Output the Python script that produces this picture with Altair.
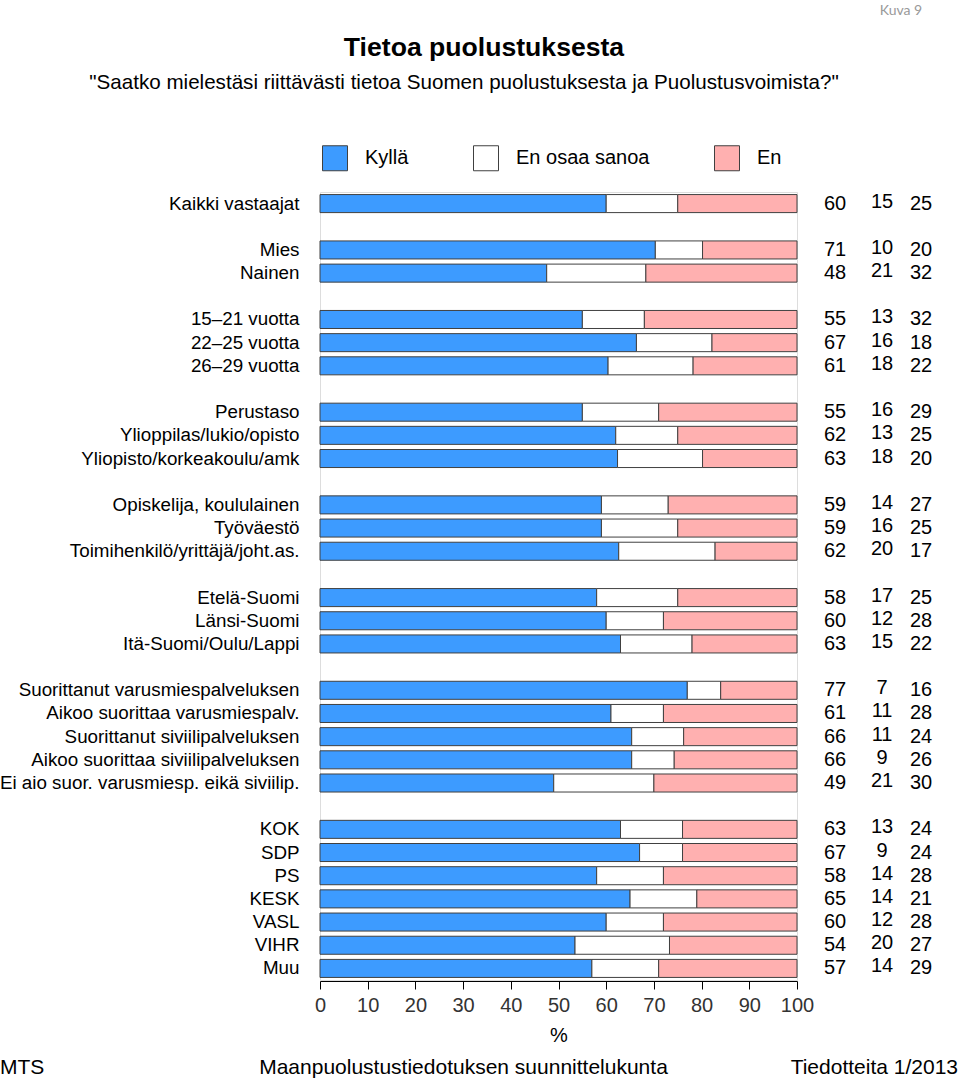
import altair as alt
import pandas as pd

labels = [
    "Kaikki vastaajat",
    "Mies", "Nainen",
    "15–21 vuotta", "22–25 vuotta", "26–29 vuotta",
    "Perustaso", "Ylioppilas/lukio/opisto", "Yliopisto/korkeakoulu/amk",
    "Opiskelija, koululainen", "Työväestö", "Toimihenkilö/yrittäjä/joht.as.",
    "Etelä-Suomi", "Länsi-Suomi", "Itä-Suomi/Oulu/Lappi",
    "Suorittanut varusmiespalveluksen", "Aikoo suorittaa varusmiespalv.",
    "Suorittanut siviilipalveluksen", "Aikoo suorittaa siviilipalveluksen",
    "Ei aio suor. varusmiesp. eikä siviilip.",
    "KOK", "SDP", "PS", "KESK", "VASL", "VIHR", "Muu",
]
group_sizes = [1, 2, 3, 3, 3, 3, 5, 7]

kylla = [60, 71, 48, 55, 67, 61, 55, 62, 63, 59, 59, 62, 58, 60, 63,
         77, 61, 66, 66, 49, 63, 67, 58, 65, 60, 54, 57]
eos = [15, 10, 21, 13, 16, 18, 16, 13, 18, 14, 16, 20, 17, 12, 15,
       7, 11, 11, 9, 21, 13, 9, 14, 14, 12, 20, 14]
en = [25, 20, 32, 32, 18, 22, 29, 25, 20, 27, 25, 17, 25, 28, 22,
      16, 28, 24, 26, 30, 24, 24, 28, 21, 28, 27, 29]

categories = ["Kyllä", "En osaa sanoa", "En"]
colors = ["#3d9bff", "#ffffff", "#ffb0b0"]
tick_values = [0, 10, 20, 30, 40, 50, 60, 70, 80, 90, 100]

# row order with blank separator rows between groups
row_order = []
i = 0
for g, size in enumerate(group_sizes):
    if g > 0:
        row_order.append(" " * g)
    row_order.extend(labels[i:i + size])
    i += size

records = []
for lab, a, b, c in zip(labels, kylla, eos, en):
    for k, (cat, v) in enumerate(zip(categories, [a, b, c])):
        records.append({"label": lab, "cat": cat, "value": v, "ord": k})
df = pd.DataFrame(records)

yscale = alt.Scale(domain=row_order, paddingInner=0.222, paddingOuter=0.111)
yenc = alt.Y("label:N", sort=row_order, scale=yscale,
             axis=alt.Axis(title=None, domain=False, ticks=False,
                           labelFontSize=18.8, labelPadding=21, labelLimit=500,
                           labelColor="#000000"))

bars = alt.Chart(df).mark_bar(stroke="#404040", strokeWidth=1).encode(
    x=alt.X("value:Q", stack="normalize",
            scale=alt.Scale(domain=[0, 1], nice=False),
            axis=alt.Axis(title="%", values=[v / 100 for v in tick_values], grid=False,
                          labelExpr="round(datum.value * 100)", labelFlush=False,
                          offset=1, tickSize=8, tickColor="#000000",
                          domainColor="#000000", labelFontSize=20,
                          labelColor="#333333", labelPadding=6,
                          titleFontSize=20, titleFontWeight="normal",
                          titleColor="#000000", titlePadding=10)),
    y=yenc,
    color=alt.Color("cat:N", sort=categories,
                    scale=alt.Scale(domain=categories, range=colors),
                    legend=alt.Legend(title=None, orient="none", legendX=2, legendY=-47,
                                      direction="horizontal", symbolType="square",
                                      symbolSize=625, symbolStrokeColor="#404040",
                                      symbolStrokeWidth=1, labelFontSize=20,
                                      labelOffset=17, columnPadding=62,
                                      labelColor="#000000", padding=0)),
    order=alt.Order("ord:Q"),
)

col_x = [515, 562, 601]
col_dy = [0, -2, 0]
texts = []
for cat, xv, dy in zip(categories, col_x, col_dy):
    texts.append(
        alt.Chart(df).transform_filter(alt.datum.cat == cat)
        .mark_text(fontSize=20, align="center", baseline="middle", dy=dy, color="#000000")
        .encode(x=alt.value(xv), y=alt.Y("label:N", sort=row_order, scale=yscale),
                text="value:Q")
    )

one = pd.DataFrame({"a": [0]})


def note(text, x, y, size, align="center", weight="normal", color="#000000", font="Liberation Sans"):
    return alt.Chart(one).mark_text(text=text, fontSize=size, align=align,
                                    baseline="middle", fontWeight=weight,
                                    color=color, font=font).encode(
        x=alt.value(x), y=alt.value(y))


annots = [
    note("Tietoa puolustuksesta", 164, -144, 26.6, weight="bold"),
    note('"Saatko mielestäsi riittävästi tietoa Suomen puolustuksesta ja Puolustusvoimista?"',
         144, -109, 20.6),
    note("Kuva 9", 581, -181, 14, color="#999999", font="Lato"),
    note("MTS", -320, 876, 21, align="left"),
    note("Maanpuolustustiedotuksen suunnittelukunta", 143.5, 876, 21),
    note("Tiedotteita 1/2013", 638, 876, 21, align="right"),
]

chart = alt.layer(bars, *texts, *annots).properties(
    width=477, height=788,
    autosize=alt.AutoSizeParams(type="none"),
    padding={"left": 320, "top": 192, "right": 163, "bottom": 100},
).configure_view(stroke=None).configure(font="Liberation Sans", background="#ffffff")

chart.save("out.html", embed_options={"renderer": "svg", "actions": False})
